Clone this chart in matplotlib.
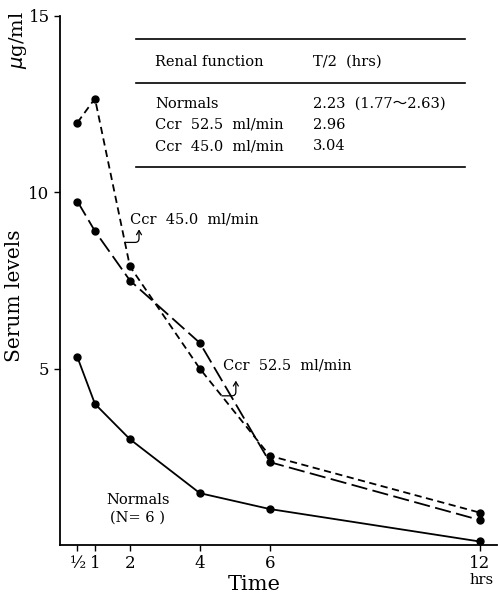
import matplotlib.pyplot as plt
import numpy as np

plt.rcParams['font.family'] = ['DejaVu Serif', 'Noto Sans CJK JP']

# sampling times (hrs) and mean serum levels (ug/ml)
hours = [0.5, 1, 2, 4, 6, 12]
normals = [5.32, 4.0, 3.0, 1.47, 1.02, 0.1]
ccr_525 = [11.98, 12.66, 7.9, 5.0, 2.53, 0.92]
ccr_450 = [9.74, 8.9, 7.5, 5.73, 2.35, 0.71]

xticks = [0.5, 1, 2, 4, 6, 12]
xticklabels = ['½', '1', '2', '4', '6', '12']
yticks = [5, 10, 15]

table_head = ('Renal function', 'T/2  (hrs)')
table_rows = [('Normals', '2.23  (1.77～2.63)'),
              ('Ccr  52.5  ml/min', '2.96'),
              ('Ccr  45.0  ml/min', '3.04')]


def fx(px):
    return px / 498


def fy(py):
    return 1 - py / 602


fig = plt.figure(figsize=(4.98, 6.02), dpi=100)
ax = fig.add_axes([60/498, 57/602, 437/498, 529/602])

mk = dict(marker='o', markersize=5, color='black', lw=1.3)
ax.plot(hours, normals, ls='-', **mk)
ax.plot(hours, ccr_525, ls=(0, (4, 2.5)), **mk)
ax.plot(hours, ccr_450, ls=(0, (9, 3)), **mk)

ax.set_xlim(0, 12.5)
ax.set_ylim(0, 15)
ax.set_xticks(xticks)
ax.set_xticklabels(xticklabels, fontsize=12)
ax.set_yticks(yticks)
ax.set_yticklabels([str(v) for v in yticks], fontsize=12)
ax.tick_params(direction='out', length=4, width=1)
for s in ('top', 'right'):
    ax.spines[s].set_visible(False)
for s in ('left', 'bottom'):
    ax.spines[s].set_linewidth(1.3)

# axis titles
fig.text(fx(254), fy(585), 'Time', fontsize=15, ha='center', va='center')
fig.text(fx(482), fy(580), 'hrs', fontsize=10.5, ha='center', va='center')
fig.text(fx(15), fy(296), 'Serum levels', rotation=90, fontsize=14.5,
         ha='center', va='center')
fig.text(fx(18), fy(40), r'$\mu$g/ml', rotation=90, fontsize=14,
         ha='center', va='center')

# half-life table in the upper right
for py in (39, 83, 167):
    fig.add_artist(plt.Line2D([fx(136), fx(465)], [fy(py), fy(py)],
                              color='black', lw=1.2))
fig.text(fx(155), fy(62), table_head[0], fontsize=10.5, va='center')
fig.text(fx(313), fy(62), table_head[1], fontsize=10.5, va='center')
for i, (name, t2) in enumerate(table_rows):
    y = fy(104 + i * 21)
    fig.text(fx(155), y, name, fontsize=10.5, va='center')
    fig.text(fx(313), y, t2, fontsize=10.5, va='center')

# curve labels with hooked arrows
hook = dict(arrowstyle='->,head_length=0.3,head_width=0.18', lw=0.9,
            shrinkA=0, shrinkB=0,
            connectionstyle='angle,angleA=0,angleB=90,rad=4')
ax.text(2.0, 9.23, 'Ccr  45.0  ml/min', fontsize=10.5, va='center')
ax.annotate('', xy=(2.26, 8.95), xytext=(1.86, 8.58), arrowprops=hook)
ax.text(4.66, 5.08, 'Ccr  52.5  ml/min', fontsize=10.5, va='center')
ax.annotate('', xy=(5.03, 4.66), xytext=(4.63, 4.23), arrowprops=hook)

ax.text(2.23, 1.28, 'Normals', fontsize=10.5, ha='center', va='center')
ax.text(2.23, 0.77, '(N= 6 )', fontsize=10.5, ha='center', va='center')

fig.savefig('out.png', dpi=100)
